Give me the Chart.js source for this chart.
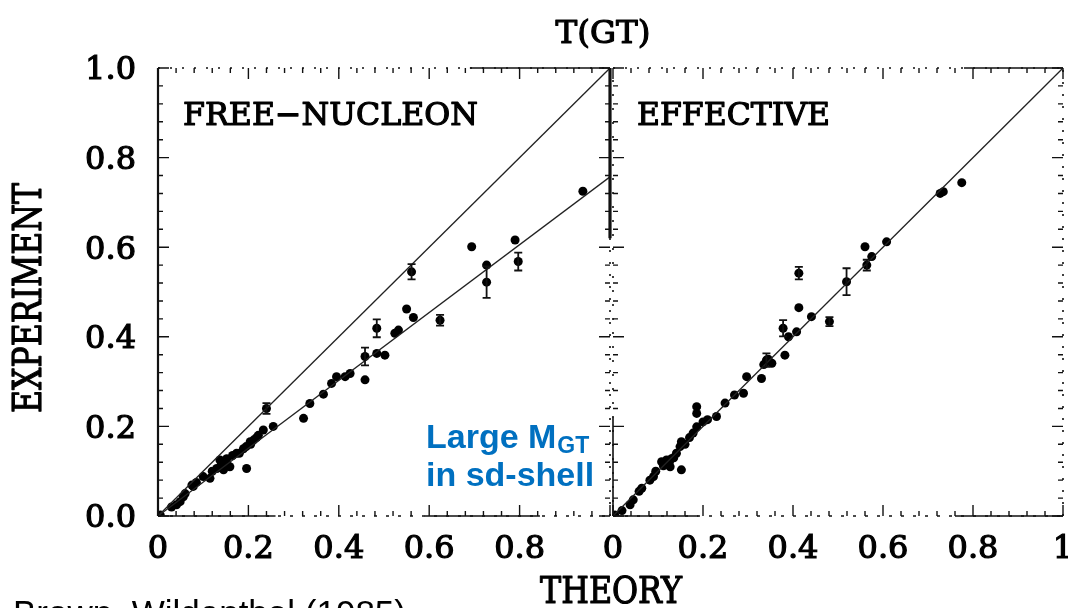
<!DOCTYPE html>
<html>
<head>
<meta charset="utf-8">
<script src="https://cdn.jsdelivr.net/npm/chart.js@4/dist/chart.umd.min.js"></script>
<style>
  html, body { margin: 0; padding: 0; background: #fff; }
  #wrap { position: relative; width: 1068px; height: 608px; overflow: hidden; background: #fff; }
  #free { position: absolute; left: 0; top: 0; width: 1068px; height: 608px; }
  #eff { position: absolute; left: 560px; top: 0; width: 508px; height: 608px; }
</style>
</head>
<body>
<div id="wrap">
  <canvas id="free" width="1068" height="608"></canvas>
  <canvas id="eff" width="508" height="608"></canvas>
</div>
<script>
// ---- T(GT): experiment vs. theory, free-nucleon operator ----
const freeTheory = [0.005, 0.030, 0.041, 0.049, 0.056, 0.060, 0.075, 0.078, 0.085, 0.100,
                    0.115, 0.120, 0.130, 0.137, 0.140, 0.145, 0.152, 0.159, 0.152, 0.165,
                    0.174, 0.180, 0.189, 0.195, 0.196, 0.204, 0.205, 0.212, 0.218, 0.222,
                    0.233, 0.240, 0.255, 0.322, 0.336, 0.366, 0.384, 0.395, 0.414, 0.425,
                    0.458, 0.458, 0.484, 0.502, 0.484, 0.524, 0.532, 0.550, 0.565, 0.624,
                    0.561, 0.694, 0.727, 0.727, 0.790, 0.797, 0.940];
const freeExp    = [0.002, 0.020, 0.025, 0.032, 0.043, 0.050, 0.069, 0.066, 0.075, 0.088,
                    0.084, 0.100, 0.106, 0.125, 0.115, 0.103, 0.118, 0.110, 0.128, 0.135,
                    0.140, 0.140, 0.150, 0.155, 0.106, 0.166, 0.160, 0.170, 0.175, 0.180,
                    0.192, 0.240, 0.200, 0.218, 0.251, 0.272, 0.296, 0.311, 0.311, 0.318,
                    0.304, 0.356, 0.363, 0.359, 0.419, 0.408, 0.415, 0.462, 0.443, 0.437,
                    0.545, 0.601, 0.560, 0.522, 0.616, 0.568, 0.725];
const freeErr    = [0, 0, 0, 0, 0, 0, 0, 0, 0, 0,
                    0, 0, 0, 0, 0, 0, 0, 0, 0, 0,
                    0, 0, 0, 0, 0, 0, 0, 0, 0, 0,
                    0, 0.012, 0, 0, 0, 0, 0, 0, 0, 0,
                    0, 0.020, 0, 0, 0.020, 0, 0, 0, 0, 0.012,
                    0.017, 0, 0, 0.035, 0, 0.020, 0];

// ---- T(GT): experiment vs. theory, effective operator ----
const effTheory = [0.004, 0.020, 0.038, 0.045, 0.058, 0.064, 0.082, 0.090, 0.095, 0.108,
                   0.119, 0.112, 0.115, 0.125, 0.127, 0.130, 0.135, 0.141, 0.149, 0.152,
                   0.152, 0.160, 0.170, 0.178, 0.186, 0.186, 0.186, 0.200, 0.210, 0.230,
                   0.249, 0.270, 0.290, 0.297, 0.330, 0.335, 0.341, 0.345, 0.353, 0.382,
                   0.378, 0.390, 0.408, 0.413, 0.413, 0.441, 0.481, 0.519, 0.564, 0.560,
                   0.575, 0.608, 0.727, 0.734, 0.775];
const effExp    = [0.002, 0.012, 0.025, 0.036, 0.055, 0.062, 0.080, 0.088, 0.100, 0.121,
                   0.125, 0.112, 0.118, 0.120, 0.110, 0.128, 0.130, 0.140, 0.155, 0.166,
                   0.103, 0.160, 0.175, 0.185, 0.199, 0.229, 0.244, 0.210, 0.215, 0.222,
                   0.252, 0.270, 0.274, 0.311, 0.307, 0.338, 0.348, 0.350, 0.341, 0.359,
                   0.419, 0.400, 0.411, 0.465, 0.542, 0.445, 0.434, 0.523, 0.560, 0.601,
                   0.579, 0.612, 0.720, 0.724, 0.744];
const effErr    = [0, 0, 0, 0, 0, 0, 0, 0, 0, 0,
                   0, 0, 0, 0, 0, 0, 0, 0, 0, 0,
                   0, 0, 0, 0, 0, 0, 0, 0, 0, 0,
                   0, 0, 0, 0, 0, 0, 0.015, 0, 0, 0,
                   0.018, 0, 0, 0, 0.014, 0, 0.010, 0.030, 0.012, 0,
                   0, 0, 0, 0, 0];

// reference lines: unit slope and the quenched free-nucleon fit
const lineTheory = [0, 1];
const unitLine = [0, 1];
const quenchedLine = [0, 0.757];

// tick labels
const yTickValues = [0, 0.2, 0.4, 0.6, 0.8, 1.0];
const yTickLabels = ['0.0', '0.2', '0.4', '0.6', '0.8', '1.0'];
const xTickValuesFree = [0, 0.2, 0.4, 0.6, 0.8];
const xTickLabelsFree = ['0', '0.2', '0.4', '0.6', '0.8'];
const xTickValuesEff = [0, 0.2, 0.4, 0.6, 0.8, 1.0];
const xTickLabelsEff = ['0', '0.2', '0.4', '0.6', '0.8', '1'];

const SERIF = '"DejaVu Serif", "Liberation Serif", serif';
const INK = '#111';

function points(xs, ys) { return xs.map((x, i) => ({ x: x, y: ys[i] })); }

// Frame with inward tick marks on all four sides; parts of the frame are dotted
const frameTicks = {
  id: 'frameTicks',
  afterDatasetsDraw(chart, args, opts) {
    const { ctx, chartArea: a, scales: { x, y } } = chart;
    ctx.save();
    ctx.strokeStyle = INK;
    ctx.lineCap = 'butt';
    const seg = (side, from, to, w, dash) => {
      ctx.beginPath();
      ctx.lineWidth = w;
      ctx.setLineDash(dash || []);
      if (side === 'left' || side === 'right') {
        const px = side === 'left' ? a.left : a.right;
        ctx.moveTo(px, y.getPixelForValue(from));
        ctx.lineTo(px, y.getPixelForValue(to));
      } else {
        const py = side === 'top' ? a.top : a.bottom;
        ctx.moveTo(x.getPixelForValue(from), py);
        ctx.lineTo(x.getPixelForValue(to), py);
      }
      ctx.stroke();
    };
    for (const side of ['left', 'right', 'top', 'bottom']) {
      const s = opts.sides[side];
      seg(side, 0, 1, s.w, s.dash);
      (s.solid || []).forEach(r => seg(side, r[0], r[1], r[2] || s.w, []));
    }
    ctx.setLineDash([]);
    ctx.lineWidth = 1.4;
    ctx.beginPath();
    for (let i = 0; i <= 25; i++) {
      const v = i * 0.04;
      const len = (i % 5 === 0) ? 11 : 5;
      const px = x.getPixelForValue(v);
      const py = y.getPixelForValue(v);
      ctx.moveTo(px, a.bottom); ctx.lineTo(px, a.bottom - len);
      ctx.moveTo(px, a.top); ctx.lineTo(px, a.top + len);
      ctx.moveTo(a.left, py); ctx.lineTo(a.left + len, py);
      ctx.moveTo(a.right, py); ctx.lineTo(a.right - len, py);
    }
    ctx.stroke();
    ctx.restore();
  }
};

// Vertical error bars read from the dataset's "errors" array
const errorBars = {
  id: 'errorBars',
  afterDatasetsDraw(chart) {
    const { ctx, scales: { x, y } } = chart;
    ctx.save();
    ctx.strokeStyle = INK;
    ctx.lineWidth = 1.8;
    chart.data.datasets.forEach(ds => {
      if (!ds.errors) return;
      ds.data.forEach((p, i) => {
        const e = ds.errors[i];
        if (!e) return;
        const px = x.getPixelForValue(p.x);
        const y1 = y.getPixelForValue(p.y - e);
        const y2 = y.getPixelForValue(p.y + e);
        ctx.beginPath();
        ctx.moveTo(px, y1); ctx.lineTo(px, y2);
        ctx.moveTo(px - 4, y1); ctx.lineTo(px + 4, y1);
        ctx.moveTo(px - 4, y2); ctx.lineTo(px + 4, y2);
        ctx.stroke();
      });
    });
    ctx.restore();
  }
};

// Draws text squeezed horizontally to a given width, lightly stroked for weight
function fitText(ctx, text, x, y, width, font, align, angle) {
  ctx.save();
  ctx.font = font;
  const natural = ctx.measureText(text).width;
  const k = width / natural;
  ctx.translate(x, y);
  if (angle) ctx.rotate(angle);
  ctx.scale(k, 1);
  ctx.textAlign = align;
  ctx.lineWidth = 1.2;
  ctx.strokeStyle = '#000';
  ctx.lineJoin = 'round';
  ctx.fillText(text, 0, 0);
  ctx.strokeText(text, 0, 0);
  ctx.restore();
}

// Titles, axis names, panel labels and annotations
const annotations = {
  id: 'annotations',
  afterDraw(chart) {
    const ctx = chart.ctx;
    ctx.save();
    ctx.fillStyle = '#000';
    ctx.textBaseline = 'alphabetic';

    const f32 = '32px ' + SERIF;
    fitText(ctx, 'T(GT)', 603, 43, 95, f32, 'center');
    fitText(ctx, 'FREE\u2212NUCLEON', 183, 125, 295, f32, 'left');
    fitText(ctx, 'EFFECTIVE', 637, 125, 193, f32, 'left');
    fitText(ctx, 'THEORY', 611, 603, 142, '37px ' + SERIF, 'center');
    fitText(ctx, 'EXPERIMENT', 41, 298, 230, '40px ' + SERIF, 'center', -Math.PI / 2);

    // highlighted note
    ctx.fillStyle = '#0070C0';
    ctx.textAlign = 'left';
    ctx.font = '700 34px "Liberation Sans", Arial, sans-serif';
    const lead = 'Large M';
    ctx.fillText(lead, 426, 448);
    const w = ctx.measureText(lead).width;
    ctx.font = '700 23px "Liberation Sans", Arial, sans-serif';
    ctx.fillText('GT', 426 + w + 1, 453);
    ctx.font = '700 34px "Liberation Sans", Arial, sans-serif';
    ctx.fillText('in sd-shell', 426, 486);

    // reference
    ctx.fillStyle = '#000';
    ctx.font = '35px "Liberation Sans", Arial, sans-serif';
    ctx.fillText('Brown, Wildenthal (1985)', 13, 625);
    ctx.restore();
  }
};

const tickFont = { family: SERIF, size: 32 };

function makeScales(xValues, xLabels, showY) {
  return {
    x: {
      type: 'linear', min: 0, max: 1,
      afterBuildTicks: s => { s.ticks = xValues.map(v => ({ value: v })); },
      afterFit: s => { s.height = 92; s.paddingLeft = 0; s.paddingRight = 0; },
      grid: { display: false, drawTicks: false },
      border: { display: false },
      ticks: {
        autoSkip: false, maxRotation: 0, padding: 14, color: '#000',
        textStrokeColor: '#000', textStrokeWidth: 1.2,
        font: tickFont,
        callback: (v, i) => xLabels[i]
      }
    },
    y: {
      type: 'linear', min: 0, max: 1, display: showY,
      afterBuildTicks: s => { s.ticks = yTickValues.map(v => ({ value: v })); },
      afterFit: s => { s.width = showY ? 158 : 0; s.paddingTop = 0; s.paddingBottom = 0; },
      grid: { display: false, drawTicks: false },
      border: { display: false },
      ticks: {
        autoSkip: false, padding: 22, labelOffset: 3, color: '#000',
        textStrokeColor: '#000', textStrokeWidth: 1.2,
        font: tickFont,
        callback: (v, i) => yTickLabels[i]
      }
    }
  };
}

function makeDatasets(theory, exp, err, lines) {
  const sets = lines.map(l => ({
    type: 'line',
    data: points(lineTheory, l),
    borderColor: '#222', borderWidth: 1.3,
    pointRadius: 0, fill: false, tension: 0
  }));
  sets.push({
    type: 'scatter',
    data: points(theory, exp),
    errors: err,
    backgroundColor: '#000', borderColor: '#000',
    pointStyle: 'circle', pointRadius: 4.5, borderWidth: 0
  });
  return sets;
}

const common = {
  responsive: false,
  animation: false,
  devicePixelRatio: 1,
  plugins: { legend: { display: false }, tooltip: { enabled: false } }
};

new Chart(document.getElementById('free'), {
  type: 'scatter',
  data: { datasets: makeDatasets(freeTheory, freeExp, freeErr, [unitLine, quenchedLine]) },
  options: Object.assign({}, common, {
    layout: { padding: { left: 0, top: 68, right: 458, bottom: 0 } },
    scales: makeScales(xTickValuesFree, xTickLabelsFree, true),
    plugins: Object.assign({}, common.plugins, {
      frameTicks: {
        sides: {
          left: { w: 2.2 },
          bottom: { w: 1.6, dash: [3, 9], solid: [[0, 0.26], [0.59, 0.845]] },
          top: { w: 1.6, dash: [2, 10], solid: [[0.69, 1]] },
          right: { w: 1.6, dash: [2, 10], solid: [[0.62, 1, 3.2]] }
        }
      }
    })
  }),
  plugins: [frameTicks, errorBars, annotations]
});

new Chart(document.getElementById('eff'), {
  type: 'scatter',
  data: { datasets: makeDatasets(effTheory, effExp, effErr, [unitLine]) },
  options: Object.assign({}, common, {
    layout: { padding: { left: 53, top: 68, right: 5, bottom: 0 } },
    scales: makeScales(xTickValuesEff, xTickLabelsEff, false),
    plugins: Object.assign({}, common.plugins, {
      frameTicks: {
        sides: {
          left: { w: 1.6, dash: [2, 12], solid: [[0, 0.22]] },
          bottom: { w: 1.6, dash: [3, 9], solid: [[0, 0.19], [0.76, 1]] },
          top: { w: 1.6, dash: [2, 10], solid: [[0.78, 1]] },
          right: { w: 1.6, dash: [2, 10] }
        }
      }
    })
  }),
  plugins: [frameTicks, errorBars]
});
</script>
</body>
</html>
